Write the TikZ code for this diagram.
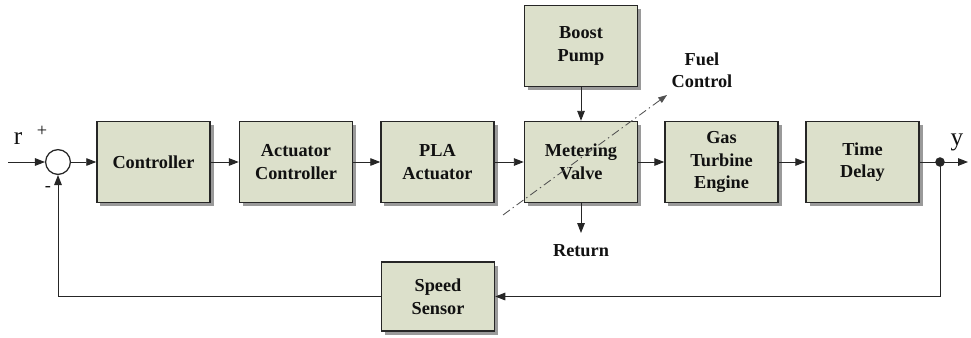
\documentclass[tikz,border=0pt]{standalone}
\usepackage{fontspec}
\setmainfont{Liberation Serif}
\usetikzlibrary{arrows.meta,shadows}
\definecolor{ink}{HTML}{111111}
\definecolor{line}{HTML}{262626}
\definecolor{boxfill}{HTML}{DCE0CB}
\definecolor{shade}{HTML}{9A9A9A}

\begin{document}
\begin{tikzpicture}[
  x=0.025cm,y=-0.025cm,
  text=ink,
  arrow/.style={-{Triangle[length=2.5mm,width=1.9mm]},draw=line,line width=.7pt},
  wire/.style={draw=line,line width=.7pt},
  block/.style={draw=line,line width=.9pt,fill=boxfill,
    minimum width=2.83cm,minimum height=2.03cm,align=center,
    font=\fontsize{13}{16}\selectfont\bfseries,
    drop shadow={shadow xshift=.09cm,shadow yshift=-.09cm,fill=shade,opacity=1}},
  label/.style={font=\fontsize{13}{16}\selectfont\bfseries,align=center},
  sign/.style={font=\fontsize{13}{15}\selectfont,inner sep=0pt}
]
  \useasboundingbox (0,0) rectangle (971,337);

  \node[circle,draw=line,line width=.9pt,fill=white,minimum size=.62cm,inner sep=0pt]
    (sum) at (58,162) {};
  \node[block] (ctrl) at (153.5,162) {Controller};
  \node[block] (actctrl) at (296,162) {Actuator\\Controller};
  \node[block] (pla) at (437.5,162) {PLA\\Actuator};
  \node[block] (valve) at (581,162) {Metering\\Valve};
  \node[block] (pump) at (581,46) {Boost\\Pump};
  \node[block] (engine) at (721.5,162) {Gas\\Turbine\\Engine};
  \node[block] (delay) at (862.5,162) {Time\\Delay};
  \node[block,minimum height=1.73cm] (sensor) at (438,296.5) {Speed\\Sensor};

  \coordinate (rin) at (8,162);
  \coordinate (yout) at (968,162);
  \fill[line] (940,162) circle (3.4pt) coordinate (tap);
  \coordinate (retend) at (581,233);
  \coordinate (fcstart) at (503,215);
  \coordinate (fcend) at (667,95);

  \node[font=\fontsize{18}{20}\selectfont] (r) at (18,139) {r};
  \node[sign] (plus) at (42,131) {+};
  \node[sign] (minus) at (48,189) {-};
  \node[font=\fontsize{18}{20}\selectfont] (y) at (957,142) {y};
  \node[label] (ret) at (581,251) {Return};
  \node[label] (fuel) at (702,70) {Fuel\\Control};

  \draw[arrow] (rin) -- (sum);
  \draw[arrow] (sum) -- (ctrl);
  \draw[arrow] (ctrl) -- (actctrl);
  \draw[arrow] (actctrl) -- (pla);
  \draw[arrow] (pla) -- (valve);
  \draw[arrow] (valve) -- (engine);
  \draw[arrow] (engine) -- (delay);
  \draw[wire] (delay) -- (tap);
  \draw[arrow] (tap) -- (yout);
  \draw[arrow] (pump) -- (valve);
  \draw[arrow] (valve) -- (retend);
  \draw[arrow] (tap) |- (sensor);
  \draw[arrow] (sensor) -| (sum);
  \draw[draw=line!80,line width=.6pt,dash pattern=on 6pt off 2.5pt on 1pt off 2.5pt,
    -{Triangle[length=2.2mm,width=1.6mm]}] (fcstart) -- (fcend);
\end{tikzpicture}
\end{document}
